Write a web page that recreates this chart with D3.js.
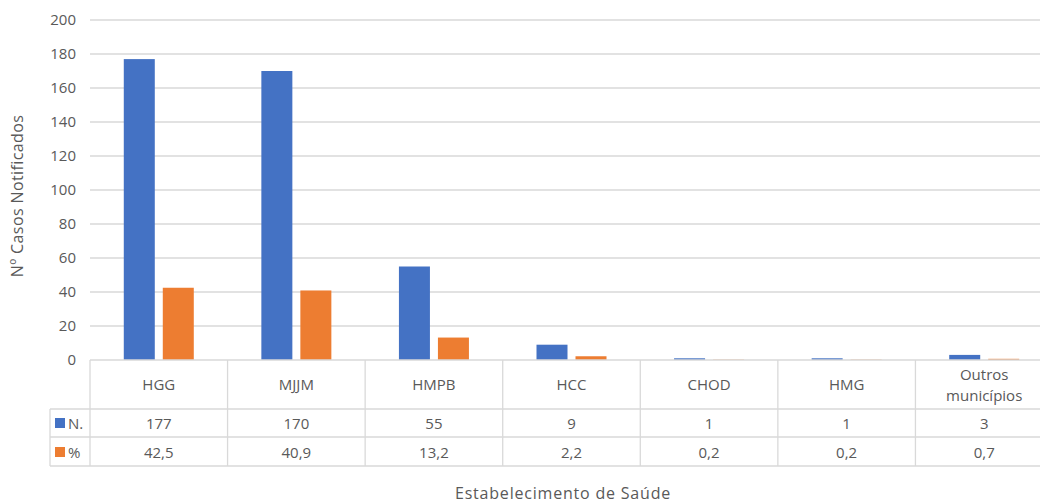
<!DOCTYPE html>
<html>
<head>
<meta charset="utf-8">
<script src="https://cdn.jsdelivr.net/npm/d3@7"></script>
<style>
  html, body { margin: 0; padding: 0; background: #fff; overflow: hidden; }
  svg { display: block; font-family: "Open Sans", "Noto Sans", sans-serif; }
</style>
</head>
<body>
<svg id="chart" width="1040" height="503"></svg>
<script>
// Casos notificados por estabelecimento de saúde
const categories = ["HGG", "MJJM", "HMPB", "HCC", "CHOD", "HMG", "Outros municípios"];
const seriesNames = ["N.", "%"];
const valuesN = [177, 170, 55, 9, 1, 1, 3];
const valuesPct = [42.5, 40.9, 13.2, 2.2, 0.2, 0.2, 0.7];
const pctLabels = ["42,5", "40,9", "13,2", "2,2", "0,2", "0,2", "0,7"];
const yTicks = [0, 20, 40, 60, 80, 100, 120, 140, 160, 180, 200];
const colors = ["#4472C4", "#ED7D31"];

const svg = d3.select("#chart");
const plotLeft = 90, plotRight = 1053, plotTop = 20, zeroY = 360;
const headerBottom = 409, rowN = 437, rowPct = 466, legendLeft = 50;
const gridColor = "#d9d9d9", textColor = "#595959";
const fs = "15px";

const y = d3.scaleLinear().domain([0, 200]).range([zeroY, plotTop]);
const x0 = d3.scaleBand().domain(categories).range([plotLeft, plotRight]);
const groupW = 70;
const x1 = d3.scaleBand().domain(seriesNames).range([0, groupW]).paddingInner(8 / 39);

// gridlines
svg.append("g").selectAll("line").data(yTicks.filter(d => d > 0)).join("line")
  .attr("x1", plotLeft).attr("x2", plotRight)
  .attr("y1", d => y(d)).attr("y2", d => y(d))
  .attr("stroke", gridColor).attr("stroke-width", 1.3);

// y axis labels
const yAxis = d3.axisLeft(y).tickValues(yTicks).tickSize(0).tickPadding(0);
const yg = svg.append("g").attr("transform", `translate(76,0)`).call(yAxis);
yg.select(".domain").remove();
yg.selectAll("text").attr("fill", textColor).style("font-size", fs)
  .style("font-family", "'Open Sans', sans-serif");

// bars
const seriesData = [valuesN, valuesPct];
const groups = svg.append("g").selectAll("g").data(categories).join("g")
  .attr("transform", d => `translate(${x0(d) + (x0.bandwidth() - groupW) / 2},0)`);
groups.selectAll("rect").data((d, i) => seriesNames.map((s, k) => ({ s, v: seriesData[k][i], k })))
  .join("rect")
  .attr("x", d => x1(d.s)).attr("width", x1.bandwidth())
  .attr("y", d => y(d.v)).attr("height", d => zeroY - y(d.v))
  .attr("fill", d => colors[d.k]);

// data table
const tbl = svg.append("g").attr("stroke", gridColor).attr("stroke-width", 1.3);
tbl.append("line").attr("x1", plotLeft).attr("x2", plotRight).attr("y1", zeroY).attr("y2", zeroY);
[headerBottom, rowN, rowPct].forEach(yy =>
  tbl.append("line").attr("x1", legendLeft).attr("x2", plotRight).attr("y1", yy).attr("y2", yy));
tbl.append("line").attr("x1", legendLeft).attr("x2", legendLeft).attr("y1", headerBottom).attr("y2", rowPct);
categories.concat(["__end"]).forEach((c, i) => {
  const xx = i < categories.length ? x0(c) : plotRight;
  tbl.append("line").attr("x1", xx).attr("x2", xx).attr("y1", zeroY).attr("y2", rowPct);
});

const txt = svg.append("g").attr("fill", textColor).style("font-size", fs).attr("text-anchor", "middle");
categories.forEach((c, i) => {
  const cx = x0(c) + x0.bandwidth() / 2;
  const words = c.split(" ");
  if (words.length > 1) {
    txt.append("text").attr("x", cx).attr("y", 380).text(words[0]);
    txt.append("text").attr("x", cx).attr("y", 401).text(words.slice(1).join(" "));
  } else {
    txt.append("text").attr("x", cx).attr("y", 390).text(c);
  }
  txt.append("text").attr("x", cx).attr("y", 429).text(d3.format("d")(valuesN[i]));
  txt.append("text").attr("x", cx).attr("y", 458).text(pctLabels[i]);
});

// legend keys in table
[[rowN, 0], [rowPct, 1]].forEach(([yy, k]) => {
  svg.append("rect").attr("x", 55).attr("y", yy - 19).attr("width", 10).attr("height", 10).attr("fill", colors[k]);
  svg.append("text").attr("x", 68).attr("y", yy - 8).attr("fill", textColor)
    .style("font-size", fs).text(seriesNames[k]);
});

// axis titles
svg.append("text").attr("transform", "translate(23,196) rotate(-90)")
  .attr("text-anchor", "middle").attr("fill", textColor).style("font-size", "16px")
  .style("letter-spacing", "0.4px")
  .text("Nº Casos Notificados");
svg.append("text").attr("x", 563).attr("y", 499)
  .attr("text-anchor", "middle").attr("fill", textColor).style("font-size", "16px")
  .style("letter-spacing", "0.8px")
  .text("Estabelecimento de Saúde");
</script>
</body>
</html>
